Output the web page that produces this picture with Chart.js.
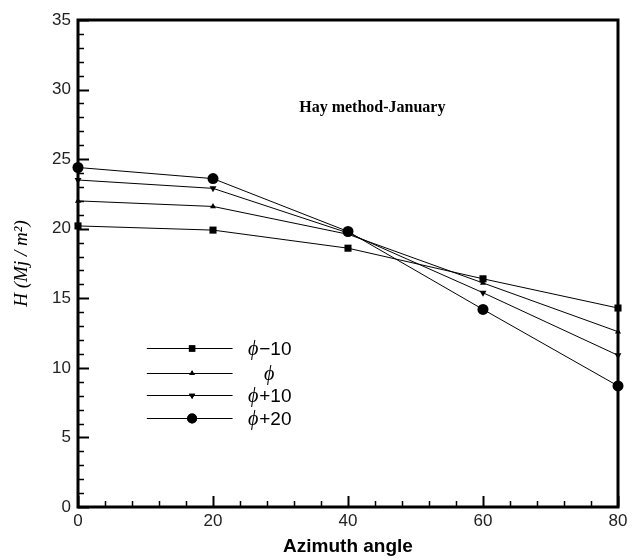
<!DOCTYPE html>
<html>
<head>
<meta charset="utf-8">
<script src="https://cdn.jsdelivr.net/npm/chart.js@4/dist/chart.umd.min.js"></script>
<style>
  html, body { margin: 0; padding: 0; background: #fff; }
  #wrap { width: 639px; height: 560px; }
</style>
</head>
<body>
<div id="wrap"><canvas id="chart" width="639" height="560"></canvas></div>
<script>
// data
const azimuth = [0, 20, 40, 60, 80];
const phiMinus10 = [20.2, 19.9, 18.6, 16.4, 14.3];
const phiZero = [22.0, 21.6, 19.6, 16.1, 12.6];
const phiPlus10 = [23.5, 22.9, 19.7, 15.4, 10.9];
const phiPlus20 = [24.4, 23.6, 19.8, 14.2, 8.7];
const seriesSuffix = ['\u221210', '', '+10', '+20'];
const xTicks = [0, 20, 40, 60, 80];
const yTicks = [0, 5, 10, 15, 20, 25, 30, 35];

const markers = [
    { pointStyle: 'rect', radius: 5, rotation: 0 },
    { pointStyle: 'triangle', radius: 3.5, rotation: 0 },
    { pointStyle: 'triangle', radius: 4, rotation: 180 },
    { pointStyle: 'circle', radius: 5.5, rotation: 0 }
];

const allSeries = [phiMinus10, phiZero, phiPlus10, phiPlus20];
const datasets = allSeries.map((vals, i) => ({
    label: '\u03D5' + seriesSuffix[i],
    data: vals.map((v, j) => ({ x: azimuth[j], y: v })),
    borderColor: '#000',
    backgroundColor: '#000',
    borderWidth: 1,
    pointStyle: markers[i].pointStyle,
    pointRadius: markers[i].radius,
    pointRotation: markers[i].rotation,
    pointBorderWidth: 0,
    tension: 0,
    showLine: true,
    clip: false
}));

// frame + inward ticks go under the data, title and legend on top
const decorPlugin = {
    id: 'decor',
    beforeDatasetsDraw(chart) {
        const { ctx, chartArea: a, scales } = chart;
        const sx = scales.x, sy = scales.y;
        ctx.save();
        ctx.strokeStyle = '#000';
        for (let v = 0; v <= 35; v++) {
            const y = Math.round(sy.getPixelForValue(v)) + 0.5;
            const major = v % 5 === 0;
            ctx.lineWidth = major ? 2 : 1.5;
            ctx.beginPath();
            ctx.moveTo(a.left, y);
            ctx.lineTo(a.left + (major ? 11 : 6), y);
            ctx.stroke();
        }
        for (let v = 0; v <= 80; v += 4) {
            const x = Math.round(sx.getPixelForValue(v)) + 0.5;
            const major = v % 20 === 0;
            ctx.lineWidth = major ? 2 : 1.5;
            ctx.beginPath();
            ctx.moveTo(x, a.bottom);
            ctx.lineTo(x, a.bottom - (major ? 11 : 6));
            ctx.stroke();
        }
        ctx.lineWidth = 3;
        ctx.strokeRect(a.left, a.top, a.right - a.left, a.bottom - a.top);
        ctx.restore();
    },
    afterDraw(chart) {
        const { ctx, scales } = chart;
        const sx = scales.x, sy = scales.y;
        ctx.save();
        ctx.strokeStyle = '#000';
        ctx.fillStyle = '#000';
        ctx.font = 'bold 16px "Liberation Serif", "Times New Roman", serif';
        ctx.textAlign = 'center';
        ctx.textBaseline = 'alphabetic';
        ctx.fillText('Hay method-January', sx.getPixelForValue(43.6), sy.getPixelForValue(28.4));

        // legend
        const lx0 = sx.getPixelForValue(10.2), lx1 = sx.getPixelForValue(22.9);
        const mx = sx.getPixelForValue(16.9), tx = sx.getPixelForValue(28.4);
        const rows = [11.45, 9.65, 8.05, 6.4];
        chart.data.datasets.forEach((ds, i) => {
            const y = Math.round(sy.getPixelForValue(rows[i])) + 0.5;
            ctx.lineWidth = 1;
            ctx.beginPath();
            ctx.moveTo(lx0, y);
            ctx.lineTo(lx1, y);
            ctx.stroke();
            Chart.helpers.drawPoint(ctx, {
                pointStyle: markers[i].pointStyle,
                radius: markers[i].radius * 0.9,
                rotation: markers[i].rotation,
                borderWidth: 0
            }, mx, y);
            ctx.fillStyle = '#000';
            ctx.fill();
            const phiFont = 'italic 20px "Liberation Serif", "DejaVu Serif", serif';
            const numFont = '19px "Liberation Sans", Arial, sans-serif';
            ctx.font = phiFont;
            const wPhi = ctx.measureText('\u03D5').width + 1;
            ctx.font = numFont;
            const wNum = ctx.measureText(seriesSuffix[i]).width;
            const x = tx - (wPhi + wNum) / 2;
            ctx.textAlign = 'left';
            ctx.textBaseline = 'middle';
            ctx.font = phiFont;
            ctx.fillText('\u03D5', x, y + 1);
            ctx.font = numFont;
            ctx.fillText(seriesSuffix[i], x + wPhi, y + 1);
        });
        ctx.restore();
    }
};

new Chart(document.getElementById('chart').getContext('2d'), {
    type: 'scatter',
    data: { datasets },
    options: {
        responsive: false,
        animation: false,
        layout: { padding: { left: 0, right: 21, top: 20, bottom: 0 } },
        plugins: { legend: { display: false }, tooltip: { enabled: false } },
        scales: {
            x: {
                type: 'linear',
                min: 0,
                max: 80,
                afterFit: s => { s.height = 53; },
                afterBuildTicks: s => { s.ticks = xTicks.map(v => ({ value: v })); },
                grid: { display: false, drawTicks: false },
                border: { display: false },
                ticks: {
                    padding: 4,
                    color: '#222',
                    font: { family: '"Liberation Sans", Arial, sans-serif', size: 17 }
                },
                title: {
                    display: true,
                    text: 'Azimuth angle',
                    color: '#000',
                    padding: { top: 0, bottom: 2 },
                    font: { family: '"Liberation Sans", Arial, sans-serif', size: 19, weight: 'bold' }
                }
            },
            y: {
                min: 0,
                max: 35,
                afterFit: s => { s.width = 78; },
                afterBuildTicks: s => { s.ticks = yTicks.map(v => ({ value: v })); },
                grid: { display: false, drawTicks: false },
                border: { display: false },
                ticks: {
                    padding: 7,
                    color: '#222',
                    font: { family: '"Liberation Sans", Arial, sans-serif', size: 17 }
                },
                title: {
                    display: true,
                    text: 'H (Mj / m\u00B2)',
                    color: '#000',
                    padding: { top: 11, bottom: 0 },
                    font: { family: '"Liberation Serif", "Times New Roman", serif', size: 19, style: 'italic' }
                }
            }
        }
    },
    plugins: [decorPlugin]
});
</script>
</body>
</html>
